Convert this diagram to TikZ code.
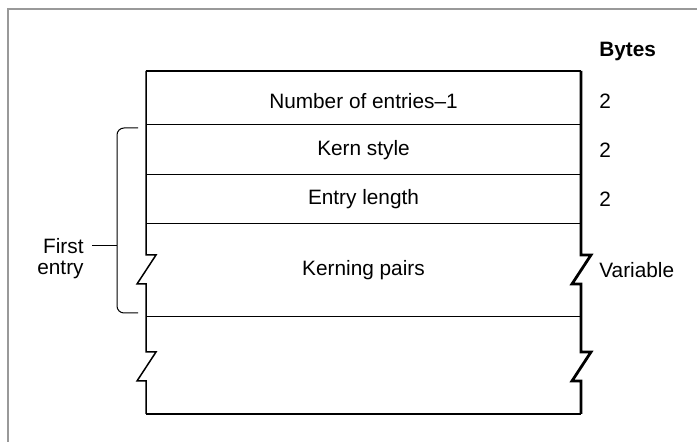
\documentclass[tikz,border=0pt]{standalone}
\usepackage{fontspec}
\setmainfont{Liberation Sans}
\usepackage{tikz}
\usetikzlibrary{positioning,calc}

\begin{document}
\begin{tikzpicture}[x=0.5pt, y=-0.5pt,
    every node/.style={font=\fontsize{10.4}{12}\selectfont, inner sep=0pt},
    rowtext/.style={anchor=center},
    sizetext/.style={anchor=west},
    rowline/.style={line width=0.5pt},
    edgeline/.style={line width=0.75pt, line join=miter},
    shadowline/.style={line width=1.4pt, line join=miter}]
  \useasboundingbox (0,0) rectangle (697,442);
  % page frame (top and left only)
  \draw[line width=0.8pt, black!40] (8,442) -- (8,9) -- (697,9);

  % the record
  \coordinate (tl) at (146,71);
  \coordinate (tr) at (581,71);
  \coordinate (bl) at (146,414);
  \coordinate (br) at (581,414);
  \draw[edgeline] (tl) -- (tr);
  \draw[edgeline] (tl) -- (146,255) -- (156,255) -- (137,284) -- (146,284)
    -- (146,352) -- (156,352) -- (137,381) -- (146,381) -- (bl);
  \draw[shadowline] (tr) -- (581,255) -- (591,255) -- (572,284) -- (581,284)
    -- (581,352) -- (591,352) -- (572,381) -- (581,381) -- (br);
  \draw[shadowline] (bl) -- (br);
  \foreach \y in {125,175,224,317}
    \draw[rowline] (146,\y) -- (581,\y);

  \node[rowtext] (numentries) at (363.5,101) {Number of entries--1};
  \node[rowtext] (kernstyle) at (363.5,150) {Kern style};
  \node[rowtext] (entrylen) at (363.5,199) {Entry length};
  \node[rowtext] (kernpairs) at (363.5,270) {Kerning pairs};

  % sizes
  \node[sizetext, font=\fontsize{10.4}{12}\selectfont\bfseries] (bytes) at (599,52) {Bytes};
  \node[sizetext] (size1) at (599,101) {2};
  \node[sizetext] (size2) at (599,150) {2};
  \node[sizetext] (size3) at (599,199) {2};
  \node[sizetext] (size4) at (599,270) {Variable};

  % first entry brace
  \draw[rowline, rounded corners=3.5pt] (138,128) -- (117,128) -- (117,313) -- (138,313);
  \coordinate (bracemid) at (117,246);
  \node[anchor=east] (first) at (84,246) {First};
  \node[anchor=east] (entry) at (84,270) {entry};
  \draw[rowline] ([xshift=4pt]first.east) -- (bracemid);
\end{tikzpicture}
\end{document}
